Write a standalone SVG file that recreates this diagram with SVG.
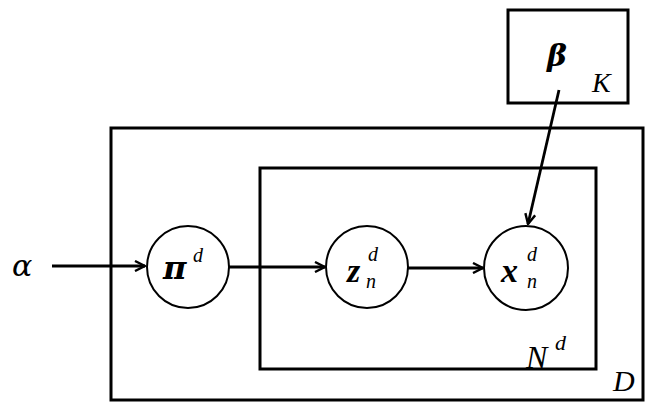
<svg xmlns="http://www.w3.org/2000/svg" width="665" height="405" viewBox="0 0 665 405">
<style>
.plate{fill:none;stroke:#000;stroke-width:3}
.node{fill:#fff;stroke:#000;stroke-width:2}
.edge{fill:none;stroke:#000;stroke-width:2.8}
.t{font-family:"Liberation Serif","DejaVu Serif",serif;font-style:italic;fill:#000}
.g{font-family:"DejaVu Serif","Liberation Serif",serif;font-style:italic;fill:#000}
.b{font-weight:bold}
.s{font-size:20px}
</style>
<defs>
<marker id="ah" viewBox="0 0 12 12" refX="11" refY="6" markerWidth="12" markerHeight="12" markerUnits="userSpaceOnUse" orient="auto">
<path d="M1,1 L11,6 L1,11" fill="none" stroke="#000" stroke-width="2.4"/>
</marker>
</defs>
<rect width="665" height="405" fill="#fff"/>
<g id="plate-D"><rect class="plate" x="111" y="128" width="532" height="272"/><text class="t" x="613" y="391" font-size="30">D</text></g>
<g id="plate-N"><rect class="plate" x="260" y="168" width="336" height="201"/><text class="t" x="526" y="368" font-size="32">N</text><text class="t" x="555" y="350" font-size="22">d</text></g>
<g id="plate-K"><rect class="plate" x="508" y="10" width="120" height="93"/><text class="t" x="592" y="92" font-size="28">K</text></g>
<g id="connectors">
<line class="edge" x1="52" y1="266" x2="145" y2="266" marker-end="url(#ah)"/>
<line class="edge" x1="229" y1="267" x2="325" y2="267" marker-end="url(#ah)"/>
<line class="edge" x1="408" y1="268" x2="483" y2="268" stroke-width="3.6" marker-end="url(#ah)"/>
<line class="edge" x1="559" y1="90" x2="528" y2="224" marker-end="url(#ah)"/>
</g>
<g id="alpha"><text class="g" x="12" y="276" font-size="30">α</text></g>
<g id="beta"><text class="g b" x="547" y="66" font-size="30">β</text></g>
<g id="pi"><circle class="node" cx="188" cy="267" r="41"/><text class="g b" x="163" y="279" font-size="32">π</text><text class="t s" x="193" y="262">d</text></g>
<g id="z"><circle class="node" cx="367" cy="267" r="41"/><text class="t b" x="347" y="282" font-size="34">z</text><text class="t s" x="368" y="261">d</text><text class="t s" x="366" y="288">n</text></g>
<g id="x"><circle class="node" cx="526" cy="268" r="42"/><text class="t b" x="501" y="282" font-size="34">x</text><text class="t s" x="527" y="261">d</text><text class="t s" x="527" y="288">n</text></g>
</svg>
